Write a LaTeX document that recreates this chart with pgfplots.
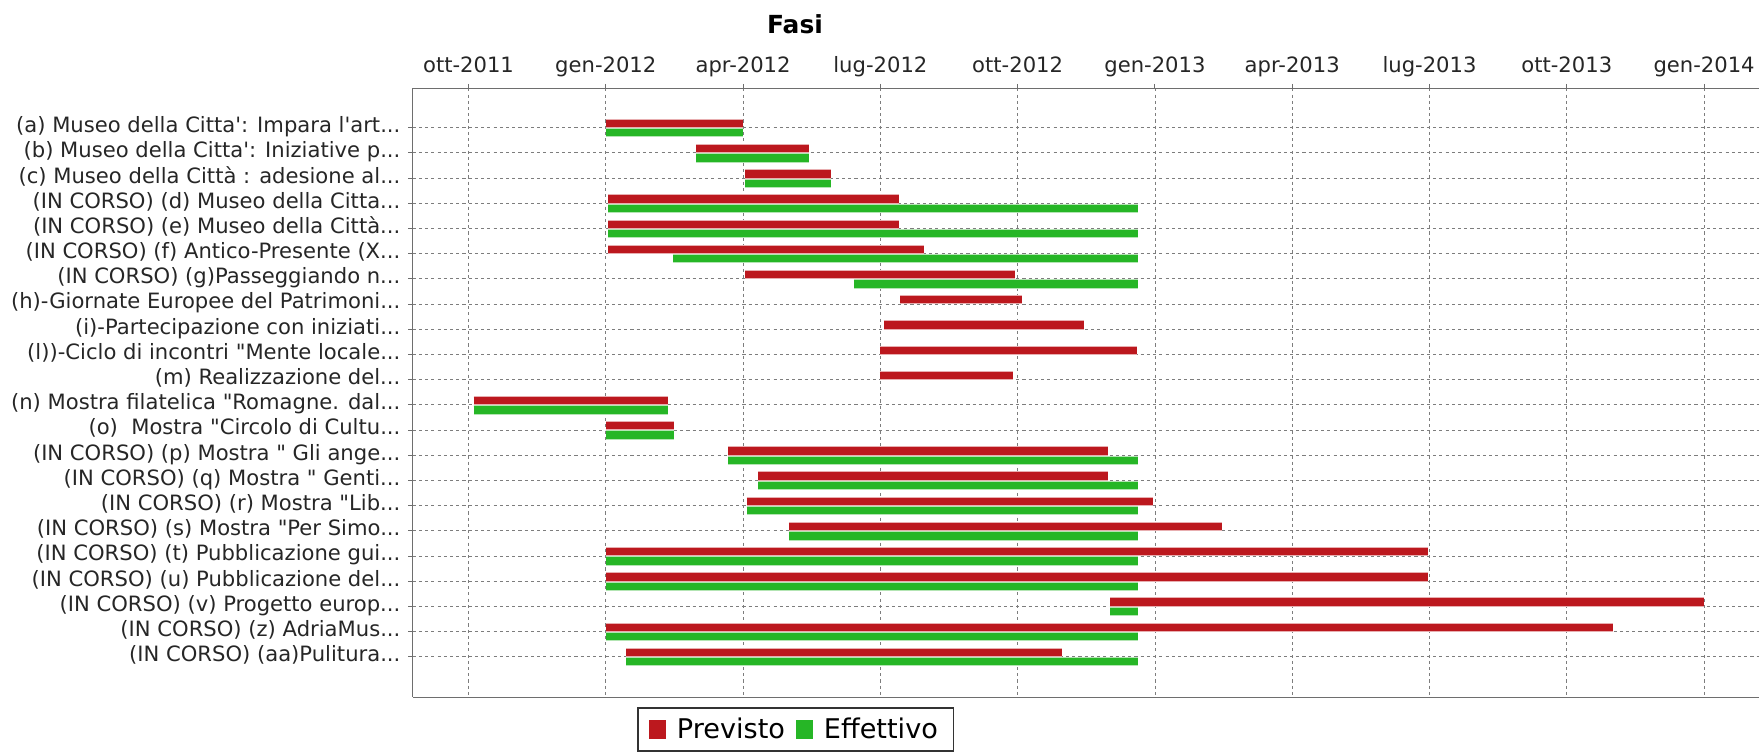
\documentclass[border=0pt]{standalone}
\usepackage{fontspec}
\setmainfont{DejaVu Sans}[Ligatures=TeXOff]
\usepackage{pgfplots}
\usepackage{pgfplotstable}
\pgfplotsset{compat=1.18}

\definecolor{prevred}{RGB}{188,24,30}
\definecolor{effgreen}{RGB}{38,182,38}
\definecolor{axisgray}{RGB}{110,110,110}
\definecolor{gridgray}{RGB}{125,125,125}

\newcommand\el{...}

% x = months since 1 Oct 2011, row = position counted from the top
\pgfplotstableread{
row ps pe
0 3.00 6.00
1 4.97 7.43
2 6.04 7.93
3 3.05 9.40
4 3.05 9.40
5 3.05 9.96
6 6.04 11.94
7 9.43 12.09
8 9.09 13.46
9 9.00 14.60
10 8.99 11.89
11 0.11 4.37
12 3.00 4.48
13 5.68 13.97
14 6.33 13.97
15 6.08 14.95
16 7.00 16.47
17 3.00 20.97
18 3.00 20.97
19 14.02 27.00
20 3.00 25.00
21 3.45 12.96
}\previsto

\pgfplotstableread{
row es ee
0 3.00 6.00
1 4.97 7.43
2 6.04 7.93
3 3.05 14.63
4 3.05 14.63
5 4.47 14.63
6 8.42 14.63
11 0.11 4.37
12 3.00 4.48
13 5.68 14.63
14 6.33 14.63
15 6.08 14.63
16 7.00 14.63
17 3.00 14.63
18 3.00 14.63
19 14.02 14.63
20 3.00 14.63
21 3.45 14.63
}\effettivo

\pgfplotsset{
  gantt/.style n args={2}{forget plot, draw=none, mark=none,
    error bars/.cd, x dir=plus, x explicit, error mark=none,
    error bar style={draw=#1, line width=#2}},
}

\begin{document}
\begin{tikzpicture}
\useasboundingbox (0,0) rectangle (791.55pt,338.4pt);
\begin{axis}[
  at={(185.7pt,24.6pt)}, anchor=south west,
  scale only axis, width=605.85pt, height=274.05pt,
  clip=false,
  xmin=-1.22, xmax=28.2, ymin=-1.564, ymax=22.61, y dir=reverse,
  axis x line*=box, axis y line*=left,
  axis line style={axisgray, line width=0.7pt},
  xtick={0,3,...,27},
  xticklabels={ott-2011, gen-2012, apr-2012, lug-2012, ott-2012, gen-2013, apr-2013, lug-2013, ott-2013, gen-2014},
  xtick pos=upper, xticklabel pos=upper,
  ytick={0,...,21},
  yticklabels={
    {(a) Museo della Citta': Impara l'art\el},
    {(b) Museo della Citta': Iniziative p\el},
    {(c) Museo della Città : adesione al\el},
    {(IN CORSO) (d) Museo della Citta\el},
    {(IN CORSO) (e) Museo della Città\el},
    {(IN CORSO) (f) Antico-Presente (X\el},
    {(IN CORSO) (g)Passeggiando n\el},
    {(h)-Giornate Europee del Patrimoni\el},
    {(i)-Partecipazione con iniziati\el},
    {(l))-Ciclo di incontri "Mente locale\el},
    {(m) Realizzazione del\el},
    {(n) Mostra filatelica "Romagne. dal\el},
    {(o)\ \ Mostra "Circolo di Cultu\el},
    {(IN CORSO) (p) Mostra " Gli ange\el},
    {(IN CORSO) (q) Mostra " Genti\el},
    {(IN CORSO) (r) Mostra "Lib\el},
    {(IN CORSO) (s) Mostra "Per Simo\el},
    {(IN CORSO) (t) Pubblicazione gui\el},
    {(IN CORSO) (u) Pubblicazione del\el},
    {(IN CORSO) (v) Progetto europ\el},
    {(IN CORSO) (z) AdriaMus\el},
    {(IN CORSO) (aa)Pulitura\el}},
  ytick pos=left,
  tick align=outside, major tick length=2pt,
  tick style={axisgray, line width=0.45pt},
  grid=major,
  major grid style={gridgray, dash pattern=on 1.4pt off 1.4pt, line width=0.4pt},
  tick label style={font=\fontsize{9.5}{11}\selectfont, text=black!85},
  typeset ticklabels with strut,
  xticklabel style={yshift=-1.6pt},
  legend columns=2,
  legend style={at={(0.2845,-0.0164)}, anchor=north, draw=black!80, line width=0.8pt,
    font=\fontsize{12.2}{14}\selectfont, inner xsep=5pt, inner ysep=2.2pt,
    /tikz/every odd column/.append style={column sep=3pt},
    /tikz/every even column/.append style={column sep=3pt}},
  legend image code/.code={\fill[#1] (0pt,-4pt) rectangle (6.75pt,4pt);},
]
\addplot[gantt={prevred!35}{4.2pt}] table[x=ps, y expr=\thisrow{row}-0.17, x error expr=\thisrow{pe}-\thisrow{ps}] {\previsto};
\addplot[gantt={prevred}{3.3pt}] table[x=ps, y expr=\thisrow{row}-0.17, x error expr=\thisrow{pe}-\thisrow{ps}] {\previsto};
\addplot[gantt={effgreen!35}{4.2pt}] table[x=es, y expr=\thisrow{row}+0.2, x error expr=\thisrow{ee}-\thisrow{es}] {\effettivo};
\addplot[gantt={effgreen}{3.3pt}] table[x=es, y expr=\thisrow{row}+0.2, x error expr=\thisrow{ee}-\thisrow{es}] {\effettivo};
\addlegendimage{prevred}
\addlegendentry{Previsto}
\addlegendimage{effgreen}
\addlegendentry{Effettivo}
\node[anchor=base, font=\fontsize{11.2}{13}\selectfont\bfseries, yshift=24.9pt] at (axis description cs:0.284,1) {Fasi};
\end{axis}
\end{tikzpicture}
\end{document}
